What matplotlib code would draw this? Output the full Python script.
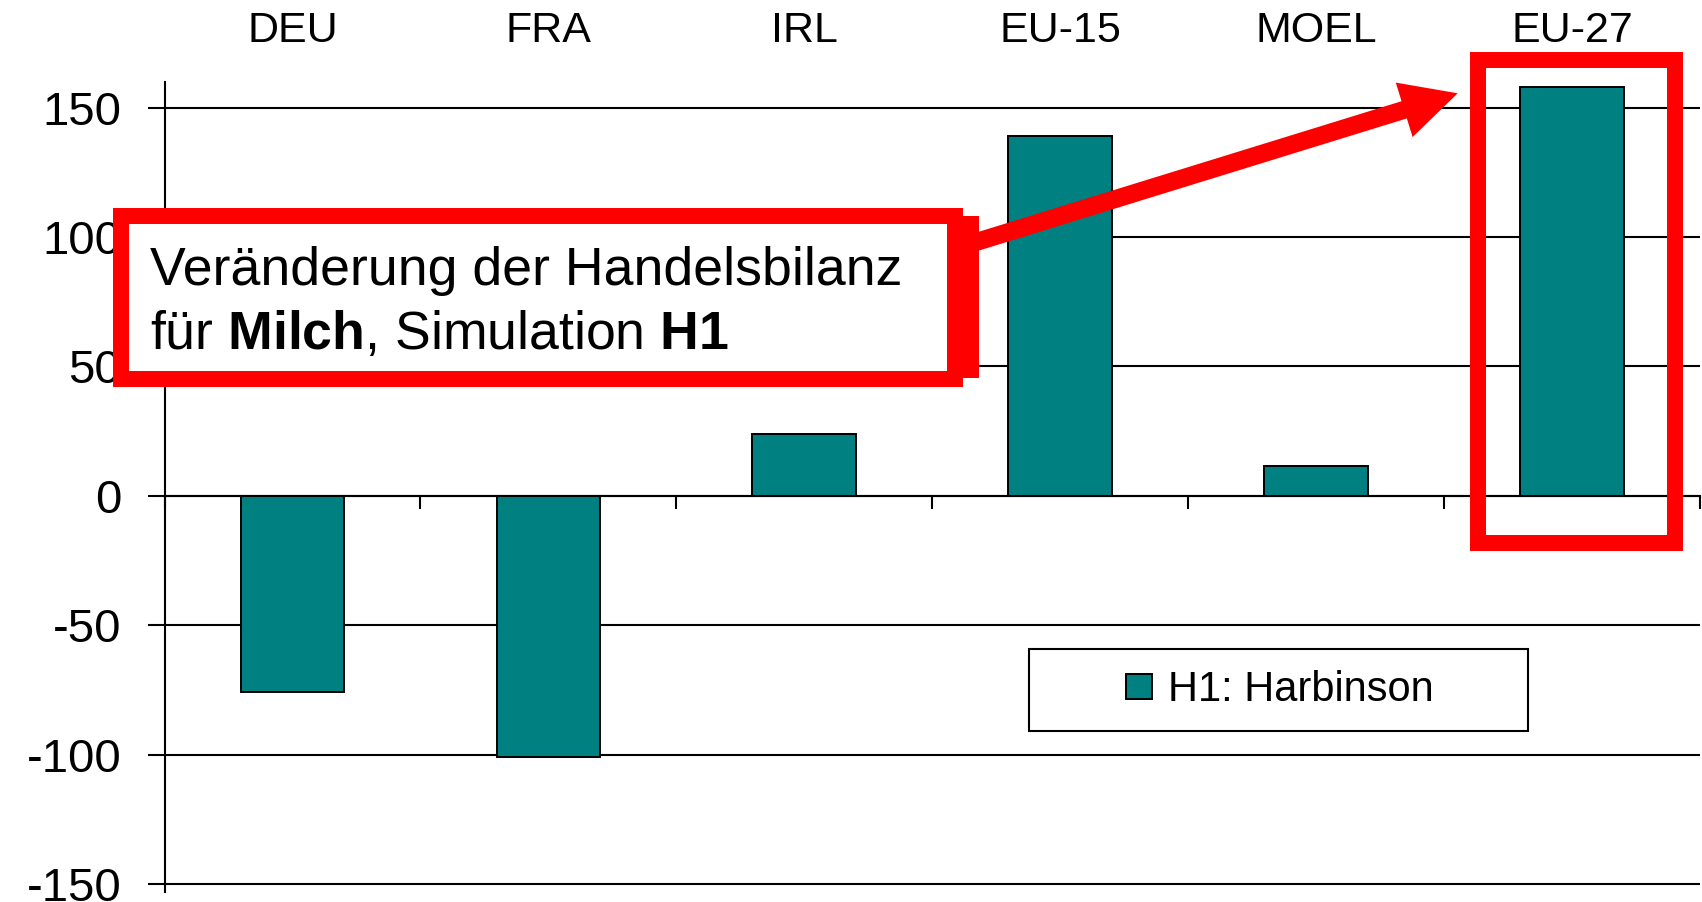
import matplotlib
matplotlib.use('Agg')
import matplotlib.pyplot as plt
from matplotlib.patches import Rectangle, FancyArrow
from matplotlib.transforms import Affine2D
import numpy as np

# ---- data ----
categories = ['DEU', 'FRA', 'IRL', 'EU-15', 'MOEL', 'EU-27']
values = [-76, -101, 24, 139, 11.5, 158]
series_name = 'H1: Harbinson'
yticks = [-150, -100, -50, 0, 50, 100, 150]
box_line1 = 'Veränderung der Handelsbilanz'
box_line2 = r'für $\mathbf{Milch}$, Simulation $\mathbf{H1}$'

plt.rcParams['font.family'] = ['Liberation Sans', 'DejaVu Sans']
plt.rcParams['mathtext.fontset'] = 'custom'
plt.rcParams['mathtext.rm'] = 'Liberation Sans'
plt.rcParams['mathtext.bf'] = 'Liberation Sans:bold'

W, H = 1702, 902
fig = plt.figure(figsize=(W / 100, H / 100), dpi=100)

# axes layout (pixel based)
px_per_unit = 2.588
y0_px = 495.7
ymin, ymax = -153, 160
top_px = y0_px - ymax * px_per_unit
bot_px = y0_px - ymin * px_per_unit
left_px, cat_w = 164.5, 255.9
ax = fig.add_axes([left_px / W, 1 - bot_px / H, 6 * cat_w / W, (bot_px - top_px) / H])

x = np.arange(len(categories))
bars = ax.bar(x, values, width=0.405, color='#008080', edgecolor='black',
              linewidth=1.4, label=series_name, zorder=2)
ax.set_xlim(-0.5, 5.5)
ax.set_ylim(ymin, ymax)
ax.set_yticks(yticks)
ax.set_yticklabels([str(v) for v in yticks])
ax.yaxis.grid(True, color='black', linewidth=1.5)
ax.set_axisbelow(True)
for s in ['top', 'right']:
    ax.spines[s].set_visible(False)
ax.spines['bottom'].set_position(('data', 0))
ax.spines['bottom'].set_linewidth(1.5)
ax.spines['left'].set_linewidth(1.5)
ax.set_xticks(np.arange(-0.5, len(categories) + 0.5, 1))
ax.set_xticklabels([])
ax.tick_params(axis='x', direction='out', length=9.4, width=1.5)
ax.tick_params(axis='y', direction='out', length=12.2, width=1.5, pad=19, labelsize=34)

for i, c in enumerate(categories):
    ax.text(i, 175.3, c, ha='center', va='baseline', fontsize=31, clip_on=False)

# highlight rectangle around EU-27
hl = Rectangle((5.018 - 0.3865, -18.2), 0.773, 186.7, fill=False, edgecolor='red',
               linewidth=11.5, clip_on=False, zorder=5, joinstyle='miter')
ax.add_patch(hl)

# pixel transform (origin top-left)
tpx = Affine2D().scale(1 / W, -1 / H).translate(0, 1) + fig.transFigure

# arrow
arrow = FancyArrow(960, 247, 1457.7 - 960, 93.3 - 247, width=18, head_width=57,
                   head_length=56, length_includes_head=True, transform=tpx,
                   color='red', linewidth=0, zorder=3)
fig.add_artist(arrow)

# text box (with red backing piece on the right)
fig.add_artist(Rectangle((900, 216), 79.3, 162.3, facecolor='red', edgecolor='none',
                         transform=tpx, zorder=4))
fig.add_artist(Rectangle((120.7, 215.7), 834, 163, facecolor='white', edgecolor='red',
                         linewidth=11.5, transform=tpx, zorder=5, joinstyle='miter'))
fig.text(150, 285, box_line1, transform=tpx, fontsize=38.6, va='baseline', zorder=6)
fig.text(150, 349, box_line2, transform=tpx, fontsize=38.6, va='baseline', zorder=6)

# legend
fig.add_artist(Rectangle((1029, 649), 499, 82, facecolor='white', edgecolor='black',
                         linewidth=1.5, transform=tpx, zorder=3))
fig.legend(handles=[bars], labels=[series_name], loc='center',
           bbox_to_anchor=(1280 / W, 1 - 690 / H), frameon=False, fontsize=30,
           handlelength=0.62, handleheight=0.55, handletextpad=0.38, borderpad=0)

fig.savefig('out.png', dpi=100)
